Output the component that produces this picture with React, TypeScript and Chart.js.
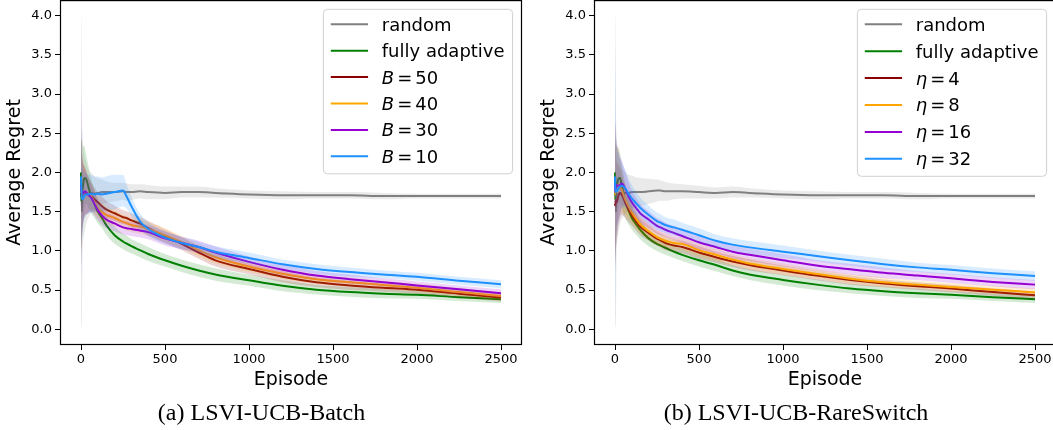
import React, { useEffect, useRef } from "react";
import { Chart, registerables } from "chart.js";

Chart.register(...registerables);

// ---------- data ----------
const EPISODES = [0, 2, 5, 10, 20, 30, 40, 60, 80, 100, 125, 150, 200, 250, 270, 300, 350, 400, 500, 600, 700, 800, 1000, 1200, 1400, 1600, 1800, 2000, 2250, 2500];
const X_TICKS = [0, 500, 1000, 1500, 2000, 2500];
const Y_TICKS = [0, 0.5, 1, 1.5, 2, 2.5, 3, 3.5, 4];
const X_LIMITS = [-125, 2625];
const Y_LIMITS = [-0.2, 4.2];

const SERIES_COLORS = ["#808080", "#008000", "#8b0000", "#ffa500", "#9400d3", "#1e90ff"];
const LABELS_A = ["random", "fully adaptive", "B = 50", "B = 40", "B = 30", "B = 10"];
const LABELS_B = ["random", "fully adaptive", "η = 4", "η = 8", "η = 16", "η = 32"];
const CAPTION_A = "(a) LSVI-UCB-Batch";
const CAPTION_B = "(b) LSVI-UCB-RareSwitch";

// (a) LSVI-UCB-Batch: means and band half-widths
const A_RANDOM = [2.00, 2.00, 1.50, 1.73, 1.72, 1.74, 1.73, 1.74, 1.73, 1.74, 1.75, 1.75, 1.75, 1.76, 1.75, 1.75, 1.76, 1.75, 1.74, 1.75, 1.75, 1.74, 1.72, 1.71, 1.71, 1.71, 1.70, 1.70, 1.70, 1.70];
const A_RANDOM_SD = [2.00, 1.95, 1.45, 0.75, 0.50, 0.40, 0.33, 0.26, 0.22, 0.19, 0.16, 0.14, 0.12, 0.11, 0.11, 0.10, 0.09, 0.09, 0.08, 0.07, 0.07, 0.06, 0.05, 0.05, 0.04, 0.04, 0.04, 0.03, 0.03, 0.03];
const A_FULL = [2.00, 1.63, 1.72, 1.80, 1.93, 1.92, 1.85, 1.70, 1.60, 1.50, 1.42, 1.33, 1.20, 1.12, 1.095, 1.06, 1.01, 0.96, 0.88, 0.81, 0.75, 0.70, 0.625, 0.555, 0.505, 0.475, 0.455, 0.44, 0.41, 0.385];
const A_FULL_SD = [0.60, 0.80, 0.70, 0.55, 0.40, 0.32, 0.28, 0.22, 0.18, 0.15, 0.13, 0.12, 0.11, 0.10, 0.10, 0.09, 0.09, 0.09, 0.08, 0.08, 0.08, 0.08, 0.07, 0.07, 0.06, 0.06, 0.06, 0.05, 0.05, 0.05];
const A_B50 = [1.75, 1.70, 1.72, 1.75, 1.75, 1.74, 1.72, 1.70, 1.66, 1.62, 1.57, 1.53, 1.48, 1.43, 1.42, 1.39, 1.35, 1.29, 1.19, 1.09, 0.98, 0.88, 0.77, 0.67, 0.60, 0.56, 0.53, 0.505, 0.455, 0.405];
const A_B50_SD = [0.60, 0.70, 0.55, 0.42, 0.32, 0.28, 0.24, 0.18, 0.15, 0.13, 0.12, 0.11, 0.10, 0.09, 0.09, 0.09, 0.09, 0.09, 0.09, 0.08, 0.08, 0.08, 0.07, 0.07, 0.06, 0.06, 0.05, 0.05, 0.05, 0.05];
const A_B40 = [1.80, 1.75, 1.72, 1.74, 1.76, 1.75, 1.73, 1.70, 1.62, 1.55, 1.50, 1.46, 1.42, 1.37, 1.355, 1.33, 1.31, 1.28, 1.20, 1.11, 1.01, 0.92, 0.80, 0.71, 0.64, 0.60, 0.565, 0.53, 0.475, 0.425];
const A_B40_SD = [0.60, 0.70, 0.55, 0.42, 0.32, 0.28, 0.24, 0.18, 0.15, 0.13, 0.12, 0.11, 0.10, 0.09, 0.09, 0.09, 0.09, 0.09, 0.09, 0.08, 0.08, 0.08, 0.07, 0.07, 0.06, 0.06, 0.05, 0.05, 0.05, 0.05];
const A_B30 = [1.85, 1.78, 1.74, 1.73, 1.76, 1.75, 1.72, 1.68, 1.60, 1.52, 1.45, 1.40, 1.35, 1.30, 1.29, 1.28, 1.26, 1.24, 1.16, 1.10, 1.05, 0.98, 0.86, 0.76, 0.685, 0.64, 0.60, 0.56, 0.51, 0.46];
const A_B30_SD = [1.20, 1.00, 0.60, 0.42, 0.32, 0.28, 0.24, 0.18, 0.15, 0.13, 0.12, 0.11, 0.10, 0.09, 0.09, 0.09, 0.09, 0.09, 0.09, 0.08, 0.08, 0.08, 0.07, 0.07, 0.06, 0.06, 0.05, 0.05, 0.05, 0.05];
const A_B10 = [1.95, 1.80, 1.68, 1.66, 1.70, 1.72, 1.72, 1.73, 1.72, 1.73, 1.72, 1.73, 1.75, 1.77, 1.70, 1.57, 1.38, 1.28, 1.17, 1.10, 1.05, 0.99, 0.91, 0.83, 0.77, 0.73, 0.70, 0.67, 0.62, 0.575];
const A_B10_SD = [0.60, 0.70, 0.55, 0.40, 0.30, 0.27, 0.25, 0.24, 0.23, 0.22, 0.22, 0.22, 0.22, 0.20, 0.16, 0.12, 0.10, 0.09, 0.08, 0.08, 0.07, 0.07, 0.07, 0.06, 0.06, 0.06, 0.05, 0.05, 0.05, 0.05];

// (b) LSVI-UCB-RareSwitch
const B_RANDOM = [2.00, 2.00, 1.50, 1.72, 1.73, 1.74, 1.73, 1.74, 1.74, 1.75, 1.75, 1.75, 1.76, 1.77, 1.77, 1.76, 1.76, 1.76, 1.75, 1.74, 1.75, 1.74, 1.72, 1.71, 1.71, 1.71, 1.70, 1.70, 1.70, 1.70];
const B_RANDOM_SD = [2.00, 1.95, 1.45, 0.75, 0.50, 0.40, 0.33, 0.27, 0.23, 0.21, 0.19, 0.18, 0.16, 0.14, 0.13, 0.12, 0.10, 0.09, 0.08, 0.07, 0.07, 0.06, 0.05, 0.05, 0.04, 0.04, 0.04, 0.03, 0.03, 0.03];
const B_FULL = [2.00, 1.65, 1.75, 1.82, 1.92, 1.93, 1.84, 1.64, 1.52, 1.42, 1.34, 1.27, 1.16, 1.09, 1.07, 1.04, 0.99, 0.95, 0.88, 0.82, 0.75, 0.70, 0.63, 0.57, 0.52, 0.485, 0.46, 0.44, 0.41, 0.385];
const B_FULL_SD = [0.60, 0.80, 0.65, 0.52, 0.40, 0.32, 0.28, 0.22, 0.18, 0.15, 0.13, 0.12, 0.10, 0.09, 0.09, 0.09, 0.08, 0.08, 0.08, 0.08, 0.07, 0.07, 0.07, 0.07, 0.06, 0.06, 0.06, 0.05, 0.05, 0.05];
const B_ETA4 = [1.60, 1.58, 1.65, 1.62, 1.70, 1.74, 1.72, 1.62, 1.53, 1.46, 1.38, 1.31, 1.23, 1.155, 1.135, 1.10, 1.07, 1.05, 0.98, 0.92, 0.865, 0.82, 0.75, 0.685, 0.63, 0.585, 0.55, 0.52, 0.475, 0.435];
const B_ETA4_SD = [0.60, 0.80, 0.65, 0.52, 0.40, 0.32, 0.26, 0.20, 0.16, 0.14, 0.12, 0.11, 0.10, 0.09, 0.09, 0.09, 0.08, 0.08, 0.08, 0.07, 0.07, 0.07, 0.06, 0.06, 0.06, 0.05, 0.05, 0.05, 0.05, 0.05];
const B_ETA8 = [1.80, 1.72, 1.78, 1.80, 1.85, 1.82, 1.78, 1.66, 1.57, 1.49, 1.41, 1.34, 1.25, 1.175, 1.155, 1.13, 1.10, 1.09, 1.01, 0.95, 0.89, 0.84, 0.77, 0.705, 0.645, 0.60, 0.57, 0.54, 0.505, 0.47];
const B_ETA8_SD = [0.70, 0.90, 0.70, 0.55, 0.45, 0.35, 0.28, 0.20, 0.16, 0.14, 0.12, 0.11, 0.10, 0.09, 0.09, 0.09, 0.08, 0.08, 0.08, 0.08, 0.07, 0.07, 0.07, 0.06, 0.06, 0.06, 0.05, 0.05, 0.05, 0.05];
const B_ETA16 = [1.85, 1.75, 1.80, 1.84, 1.83, 1.84, 1.86, 1.80, 1.70, 1.62, 1.55, 1.48, 1.40, 1.32, 1.30, 1.27, 1.23, 1.19, 1.11, 1.05, 0.99, 0.95, 0.88, 0.815, 0.765, 0.72, 0.685, 0.65, 0.605, 0.57];
const B_ETA16_SD = [0.70, 0.90, 0.70, 0.55, 0.45, 0.36, 0.30, 0.22, 0.18, 0.15, 0.13, 0.12, 0.11, 0.10, 0.10, 0.09, 0.09, 0.09, 0.09, 0.08, 0.08, 0.08, 0.08, 0.07, 0.07, 0.07, 0.06, 0.06, 0.06, 0.06];
const B_ETA32 = [1.95, 1.75, 1.78, 1.76, 1.80, 1.82, 1.83, 1.80, 1.73, 1.67, 1.61, 1.55, 1.46, 1.38, 1.36, 1.33, 1.30, 1.27, 1.20, 1.13, 1.08, 1.045, 0.99, 0.935, 0.88, 0.83, 0.79, 0.76, 0.715, 0.68];
const B_ETA32_SD = [1.80, 1.50, 0.90, 0.58, 0.45, 0.36, 0.30, 0.24, 0.20, 0.17, 0.15, 0.13, 0.12, 0.11, 0.11, 0.10, 0.10, 0.09, 0.09, 0.08, 0.08, 0.08, 0.08, 0.07, 0.07, 0.07, 0.06, 0.06, 0.06, 0.06];

const MEANS_A = [A_RANDOM, A_FULL, A_B50, A_B40, A_B30, A_B10];
const SPREADS_A = [A_RANDOM_SD, A_FULL_SD, A_B50_SD, A_B40_SD, A_B30_SD, A_B10_SD];
const MEANS_B = [B_RANDOM, B_FULL, B_ETA4, B_ETA8, B_ETA16, B_ETA32];
const SPREADS_B = [B_RANDOM_SD, B_FULL_SD, B_ETA4_SD, B_ETA8_SD, B_ETA16_SD, B_ETA32_SD];

// ---------- helpers ----------
const SANS = "'DejaVu Sans', sans-serif";

function rgba(hex: string, a: number) {
  const n = parseInt(hex.slice(1), 16);
  return `rgba(${(n >> 16) & 255},${(n >> 8) & 255},${n & 255},${a})`;
}

function buildDatasets(labels: string[], means: number[][], spreads: number[][]) {
  const ds: any[] = [];
  labels.forEach((label, k) => {
    const color = SERIES_COLORS[k];
    const m = means[k];
    const s = spreads[k];
    ds.push({
      label: "",
      isBand: true,
      data: EPISODES.map((x, i) => ({ x, y: m[i] - s[i] })),
      borderColor: "rgba(0,0,0,0)",
      borderWidth: 0,
      pointRadius: 0,
      fill: false,
      cubicInterpolationMode: "monotone",
      order: -(10 * k),
    });
    ds.push({
      label: "",
      isBand: true,
      data: EPISODES.map((x, i) => ({ x, y: m[i] + s[i] })),
      borderColor: "rgba(0,0,0,0)",
      borderWidth: 0,
      pointRadius: 0,
      fill: "-1",
      backgroundColor: rgba(color, 0.17),
      cubicInterpolationMode: "monotone",
      order: -(10 * k + 1),
    });
    ds.push({
      label,
      isBand: false,
      data: EPISODES.map((x, i) => ({ x, y: m[i] })),
      borderColor: color,
      backgroundColor: color,
      borderWidth: 2,
      pointRadius: 0,
      fill: false,
      cubicInterpolationMode: "monotone",
      order: -(10 * k + 2),
    });
  });
  return ds;
}

const framePlugin = {
  id: "frame",
  afterDatasetsDraw(chart: any) {
    const { left, top, right, bottom } = chart.chartArea;
    const ctx = chart.ctx;
    ctx.save();
    ctx.strokeStyle = "#000";
    ctx.lineWidth = 1.2;
    const l = Math.round(left) + 0.5;
    const t = Math.round(top) + 0.6;
    const r = Math.round(right) - 0.5;
    const b = Math.round(bottom) - 0.5;
    ctx.strokeRect(l, t, r - l, b - t);
    ctx.restore();
  },
};

function makeLegendPlugin(rowHeight: number) {
  const size = 18;
  const font = `${size}px ${SANS}`;
  const ifont = `italic ${size}px ${SANS}`;
  const measure = (ctx: CanvasRenderingContext2D, label: string) => {
    const m = /^(\S+) = (.+)$/.exec(label);
    if (!m) {
      ctx.font = font;
      return ctx.measureText(label).width;
    }
    ctx.font = ifont;
    let w = ctx.measureText(m[1]).width + 3;
    ctx.font = font;
    w += ctx.measureText("=").width + 3 + ctx.measureText(m[2]).width;
    return w;
  };
  const draw = (ctx: CanvasRenderingContext2D, label: string, x: number, y: number) => {
    const m = /^(\S+) = (.+)$/.exec(label);
    if (!m) {
      ctx.font = font;
      ctx.fillText(label, x, y);
      return;
    }
    ctx.font = ifont;
    ctx.fillText(m[1], x, y);
    x += ctx.measureText(m[1]).width + 3;
    ctx.font = font;
    ctx.fillText("=", x, y);
    x += ctx.measureText("=").width + 3;
    ctx.fillText(m[2], x, y);
  };
  return {
    id: "mplLegend",
    afterDraw(chart: any) {
      const ctx: CanvasRenderingContext2D = chart.ctx;
      const items = chart.data.datasets.filter((d: any) => !d.isBand);
      ctx.save();
      let maxW = 0;
      items.forEach((d: any) => {
        maxW = Math.max(maxW, measure(ctx, d.label));
      });
      const boxW = 58.4 + maxW + 8;
      const boxH = 15 + rowHeight * (items.length - 1) + 17.5;
      const right = chart.chartArea.right - 9.4;
      const top = 9.3;
      const left = right - boxW;
      const rad = 4;
      ctx.beginPath();
      ctx.moveTo(left + rad, top);
      ctx.lineTo(right - rad, top);
      ctx.quadraticCurveTo(right, top, right, top + rad);
      ctx.lineTo(right, top + boxH - rad);
      ctx.quadraticCurveTo(right, top + boxH, right - rad, top + boxH);
      ctx.lineTo(left + rad, top + boxH);
      ctx.quadraticCurveTo(left, top + boxH, left, top + boxH - rad);
      ctx.lineTo(left, top + rad);
      ctx.quadraticCurveTo(left, top, left + rad, top);
      ctx.closePath();
      ctx.fillStyle = "rgba(255,255,255,0.8)";
      ctx.fill();
      ctx.strokeStyle = "#d0d0d0";
      ctx.lineWidth = 1;
      ctx.stroke();
      items.forEach((d: any, i: number) => {
        const y = top + 15 + i * rowHeight;
        ctx.beginPath();
        ctx.moveTo(left + 7.4, y);
        ctx.lineTo(left + 44.7, y);
        ctx.strokeStyle = d.borderColor;
        ctx.lineWidth = 2;
        ctx.stroke();
        ctx.fillStyle = "#000";
        ctx.textBaseline = "alphabetic";
        ctx.textAlign = "left";
        draw(ctx, d.label, left + 58.4, y + 6.4);
      });
      ctx.restore();
    },
  };
}

function zeroPadding(s: any) {
  s.paddingTop = 0;
  s.paddingBottom = 0;
  s.paddingLeft = 0;
  s.paddingRight = 0;
}

function Panel(props: { left: number; labels: string[]; means: number[][]; spreads: number[][]; rowHeight: number }) {
  const ref = useRef<HTMLCanvasElement>(null);
  useEffect(() => {
    const chart = new Chart(ref.current as HTMLCanvasElement, {
      type: "line",
      data: { datasets: buildDatasets(props.labels, props.means, props.spreads) },
      options: {
        responsive: false,
        animation: false,
        events: [],
        layout: { padding: { left: 0, right: 18, top: 0, bottom: 0 } },
        plugins: { legend: { display: false }, tooltip: { enabled: false } },
        scales: {
          x: {
            type: "linear",
            min: X_LIMITS[0],
            max: X_LIMITS[1],
            afterBuildTicks: (s: any) => {
              s.ticks = X_TICKS.map((v) => ({ value: v }));
            },
            afterFit: (s: any) => {
              s.height = 55;
              zeroPadding(s);
            },
            grid: { display: true, drawOnChartArea: false, drawTicks: true, tickLength: 5, tickColor: "#000", tickWidth: 1 },
            border: { display: false },
            ticks: {
              autoSkip: false,
              maxRotation: 0,
              padding: 2,
              color: "#000",
              font: { family: SANS, size: 13 },
              callback: (v: any) => String(v),
            },
            title: {
              display: true,
              text: "Episode",
              color: "#000",
              font: { family: SANS, size: 19 },
              padding: { top: 0, bottom: 9 },
            },
          },
          y: {
            type: "linear",
            min: Y_LIMITS[0],
            max: Y_LIMITS[1],
            afterBuildTicks: (s: any) => {
              s.ticks = Y_TICKS.map((v) => ({ value: v }));
            },
            afterFit: (s: any) => {
              s.width = 60;
              zeroPadding(s);
            },
            grid: { display: true, drawOnChartArea: false, drawTicks: true, tickLength: 5, tickColor: "#000", tickWidth: 1 },
            border: { display: false },
            ticks: {
              autoSkip: false,
              padding: 3,
              color: "#000",
              font: { family: SANS, size: 13 },
              callback: (v: any) => Number(v).toFixed(1),
            },
            title: {
              display: true,
              text: "Average Regret",
              color: "#000",
              font: { family: SANS, size: 19 },
              padding: { top: 4, bottom: 0 },
            },
          },
        },
      } as any,
      plugins: [framePlugin, makeLegendPlugin(props.rowHeight)],
    });
    return () => chart.destroy();
  }, []);
  return (
    <canvas
      ref={ref}
      width={540}
      height={400}
      style={{ position: "absolute", left: props.left, top: 0, width: 540, height: 400 }}
    />
  );
}

const captionStyle: React.CSSProperties = {
  position: "absolute",
  top: 400,
  fontFamily: "'Liberation Serif', 'Times New Roman', serif",
  fontSize: 24,
  lineHeight: "24px",
  color: "#000",
  textAlign: "center",
  whiteSpace: "nowrap",
};

export default function App() {
  return (
    <div
      style={{
        position: "absolute",
        left: 0,
        top: 0,
        width: 1053,
        height: 430,
        overflow: "hidden",
        background: "#fff",
      }}
    >
      <Panel left={0} labels={LABELS_A} means={MEANS_A} spreads={SPREADS_A} rowHeight={26.4} />
      <Panel left={534} labels={LABELS_B} means={MEANS_B} spreads={SPREADS_B} rowHeight={26.9} />
      <div style={{ ...captionStyle, left: 261.5 - 160, width: 320 }}>{CAPTION_A}</div>
      <div style={{ ...captionStyle, left: 796 - 200, width: 400 }}>{CAPTION_B}</div>
    </div>
  );
}
